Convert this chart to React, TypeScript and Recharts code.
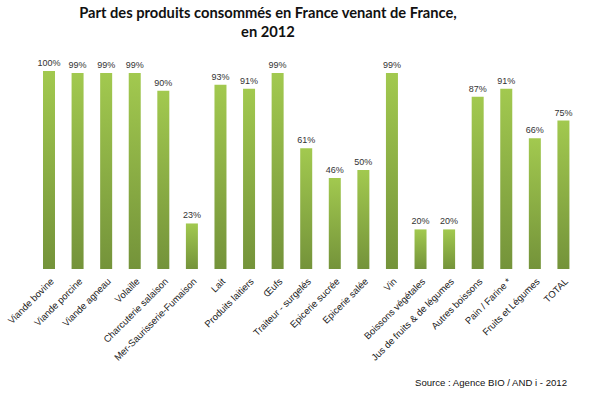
import { BarChart, Bar, XAxis, YAxis, LabelList } from "recharts";

const categories = [
  "Viande bovine",
  "Viande porcine",
  "Viande agneau",
  "Volaille",
  "Charcuterie salaison",
  "Mer-Saurisserie-Fumaison",
  "Lait",
  "Produits laitiers",
  "Œufs",
  "Traiteur - surgelés",
  "Epicerie sucrée",
  "Epicerie salée",
  "Vin",
  "Boissons végétales",
  "Jus de fruits & de légumes",
  "Autres boissons",
  "Pain / Farine *",
  "Fruits et Légumes",
  "TOTAL",
];

const shares = [100, 99, 99, 99, 90, 23, 93, 91, 99, 61, 46, 50, 99, 20, 20, 87, 91, 66, 75];

const data = categories.map((name, i) => ({ name, value: shares[i] }));

const AngledTick = (props: any) => {
  const { x, y, payload } = props;
  return (
    <g transform={`translate(${x + 3},${y + 3})`}>
      <text
        transform="rotate(-45)"
        textAnchor="end"
        fontSize={9.5}
        fill="#222"
        fontFamily="'Liberation Sans', Arial, sans-serif"
        dy={3}
      >
        {payload.value}
      </text>
    </g>
  );
};

export default function App() {
  return (
    <div style={{ position: "absolute", left: 0, top: 0, width: 590, height: 397, background: "#fff" }}>
      <div
        style={{
          position: "absolute",
          left: 0,
          width: 536,
          top: 3,
          textAlign: "center",
          fontFamily: "Lato, 'Liberation Sans', sans-serif",
          fontWeight: 700,
          fontSize: 14.7,
          lineHeight: "19px",
          color: "#111",
        }}
      >
        Part des produits consommés en France venant de France,
        <br />
        en 2012
      </div>
      <BarChart
        width={590}
        height={397}
        data={data}
        margin={{ top: 71, right: 12, left: 35, bottom: 0 }}
      >
        <defs>
          <linearGradient id="greenGrad" x1="0" y1="0" x2="0" y2="1">
            <stop offset="0%" stopColor="#a2c94f" />
            <stop offset="100%" stopColor="#74933a" />
          </linearGradient>
        </defs>
        <YAxis hide domain={[0, 100]} />
        <XAxis
          dataKey="name"
          interval={0}
          height={128}
          axisLine={false}
          tickLine={false}
          tick={<AngledTick />}
        />
        <Bar dataKey="value" fill="url(#greenGrad)" barSize={12} isAnimationActive={false}>
          <LabelList
            dataKey="value"
            position="top"
            offset={5}
            formatter={(v: any) => `${v}%`}
            style={{ fontSize: 9, fill: "#333", fontFamily: "'Liberation Sans', Arial, sans-serif" }}
          />
        </Bar>
      </BarChart>
      <div
        style={{
          position: "absolute",
          left: 415,
          top: 377,
          fontFamily: "'Liberation Sans', Arial, sans-serif",
          fontSize: 9.6,
          color: "#111",
        }}
      >
        Source : Agence BIO / AND i - 2012
      </div>
    </div>
  );
}
